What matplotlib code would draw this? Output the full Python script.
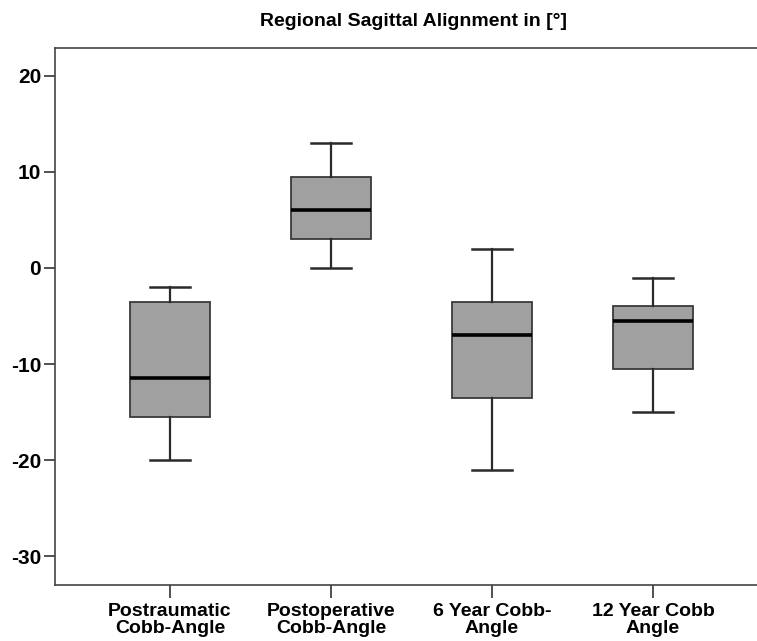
import matplotlib
matplotlib.use("Agg")
import matplotlib.pyplot as plt

# values (degrees)
categories = ["Postraumatic\nCobb-Angle", "Postoperative\nCobb-Angle",
              "6 Year Cobb-\nAngle", "12 Year Cobb\nAngle"]
whisker_low = [-20, 0, -21, -15]
q1 = [-15.5, 3, -13.5, -10.5]
median = [-11.5, 6, -7, -5.5]
q3 = [-3.5, 9.5, -3.5, -4]
whisker_high = [-2, 13, 2, -1]
y_ticks = [20, 10, 0, -10, -20, -30]

plt.rcParams["font.family"] = ["Liberation Sans", "DejaVu Sans"]
plt.rcParams["font.weight"] = "bold"

stats = []
for i, name in enumerate(categories):
    stats.append({
        "label": name,
        "whislo": whisker_low[i],
        "q1": q1[i],
        "med": median[i],
        "q3": q3[i],
        "whishi": whisker_high[i],
        "fliers": [],
    })

fig = plt.figure(figsize=(7.57, 6.41), dpi=100)
ax = fig.add_axes([0.0727, 0.0874, 0.9273, 0.8378])

positions = list(range(1, len(categories) + 1))
ax.bxp(stats, positions=positions, widths=0.5, capwidths=0.25,
       patch_artist=True, showfliers=False,
       boxprops=dict(facecolor="#a0a0a0", edgecolor="#3a3a3a", linewidth=1.3),
       whiskerprops=dict(color="#2a2a2a", linewidth=1.6),
       capprops=dict(color="#2a2a2a", linewidth=1.8),
       medianprops=dict(color="#000000", linewidth=2.6))

ax.set_xlim(0.286, 4.646)
ax.set_ylim(-33.0, 22.9)
ax.set_yticks(y_ticks)
ax.set_yticklabels([str(t) for t in y_ticks], fontsize=15, fontweight="bold")
ax.set_xticks(positions)
ax.set_xticklabels(categories, fontsize=14, fontweight="bold", linespacing=1.0)

ax.tick_params(axis="y", direction="out", length=8, width=1.2, color="#333333", pad=2)
ax.tick_params(axis="x", direction="out", length=9, width=1.2, color="#333333", pad=4)

for side in ["left", "bottom", "top"]:
    ax.spines[side].set_color("#444444")
    ax.spines[side].set_linewidth(1.2)
ax.spines["right"].set_visible(False)

fig.text(414 / 757, 1 - 22 / 641, "Regional Sagittal Alignment in [°]",
         ha="center", va="center", fontsize=14, fontweight="bold")

fig.savefig("out.png", dpi=100)
